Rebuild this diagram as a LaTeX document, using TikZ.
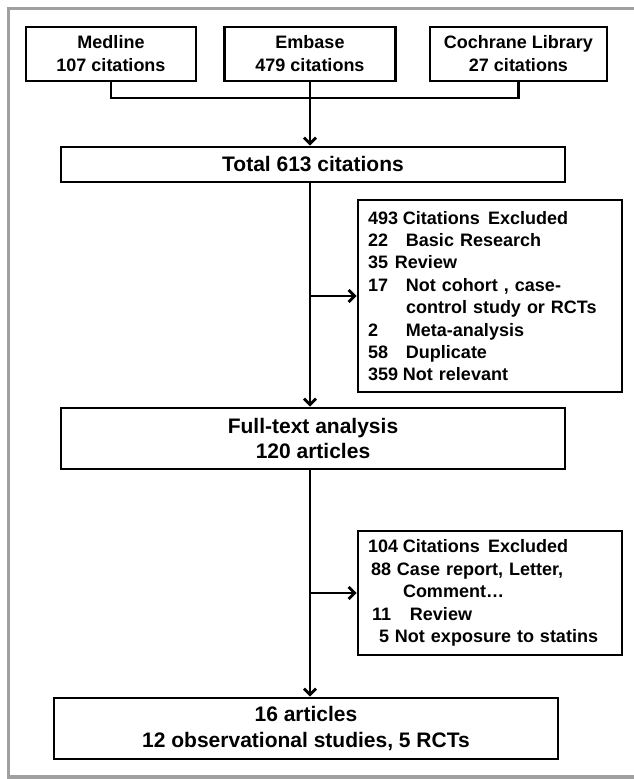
\documentclass[tikz,border=0pt]{standalone}
\usepackage{fontspec}
\setmainfont{Liberation Sans}
\usetikzlibrary{arrows.meta}
\definecolor{framegray}{HTML}{A0A0A0}

\begin{document}
\begin{tikzpicture}[x=1pt, y=-1pt,
  dbbox/.style={draw, line width=2.8pt, align=center, inner sep=0pt,
    font=\bfseries\fontsize{18}{23}\selectfont},
  mainbox/.style={draw, line width=2.8pt, align=center, inner sep=0pt,
    minimum width=504pt, font=\bfseries\fontsize{21}{25.5}\selectfont},
  exbox/.style={draw, line width=2.8pt, align=left, text width=244pt,
    inner xsep=10pt, inner ysep=0pt, font=\bfseries\fontsize{18}{22.4}\selectfont},
  link/.style={line width=2.8pt},
  arr/.style={line width=2.8pt, -{Straight Barb[length=6pt,width=12pt]}}]

\useasboundingbox (0,0) rectangle (634,779);
\draw[framegray, line width=3.5pt] (640,8.5) -- (8.5,8.5) -- (8.5,777) -- (640,777);

% databases
\node[dbbox, minimum width=170pt, minimum height=54pt] (med) at (111,54) {Medline\\107 citations};
\node[dbbox, minimum width=171pt, minimum height=54pt] (emb) at (310,54) {Embase\\479 citations};
\node[dbbox, minimum width=177pt, minimum height=54pt] (coch) at (518.5,54) {Cochrane Library\\27 citations};

% main flow
\node[mainbox, minimum height=35pt] (tot) at (313,164.5) {Total 613 citations};
\node[mainbox, minimum height=61pt] (full) at (313,438.5) {Full-text analysis\\120 articles};
\node[mainbox, minimum height=61pt] (fin) at (306,728.5) {16 articles\\12 observational studies, 5 RCTs};

% exclusions
\node[exbox, minimum height=192pt] (exc1) at (490,296) {%
\makebox[35pt][l]{493}Citations\hspace{0.45em}Excluded\\
\makebox[38pt][l]{22}Basic Research\\
\makebox[27pt][l]{35}Review\\
\makebox[38pt][l]{17}Not cohort , case-\\
\hspace{38pt}control study or RCTs\\
\makebox[38pt][l]{2}Meta-analysis\\
\makebox[38pt][l]{58}Duplicate\\
\makebox[35pt][l]{359}Not relevant};
\node[exbox, minimum height=124pt] (exc2) at (490,593) {%
\makebox[35pt][l]{104}Citations\hspace{0.45em}Excluded\\
\hspace{3pt}\makebox[26pt][l]{88}Case report, Letter,\\
\hspace{35pt}Comment…\\
\hspace{4pt}\makebox[38pt][l]{11}Review\\
\hspace{11pt}\makebox[16pt][l]{5}Not exposure to statins};

% connectors
\coordinate (join) at (310,98);
\draw[link] (med.south) |- (join) -| (coch.south);
\draw[arr] (emb.south) -- (tot.north -| emb.south);
\draw[arr] (tot.south -| emb.south) -- (full.north -| emb.south);
\draw[arr] (exc1.west -| emb.south) -- (exc1.west);
\draw[arr] (full.south -| emb.south) -- (fin.north -| emb.south);
\draw[arr] (exc2.west -| emb.south) -- (exc2.west);
\end{tikzpicture}
\end{document}
